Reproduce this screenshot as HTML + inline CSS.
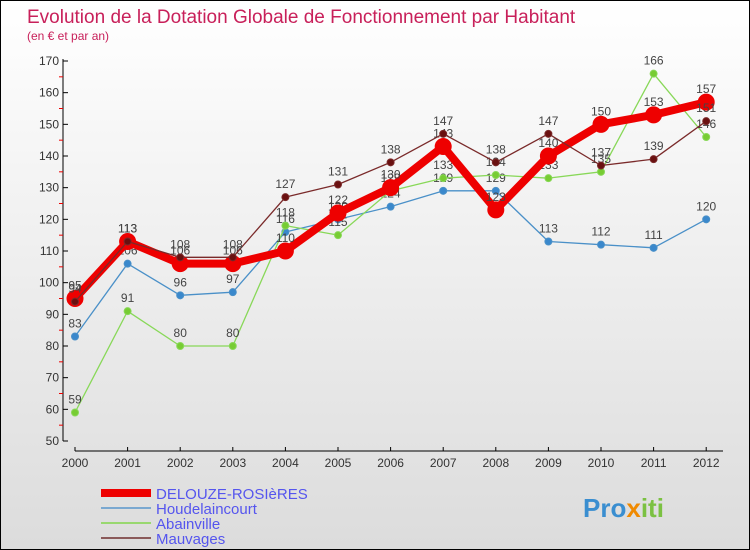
<!DOCTYPE html>
<html><head><meta charset="utf-8"><style>
body{margin:0;}
#wrap{width:748px;height:548px;border:1px solid #000;position:relative;background:linear-gradient(#fff,#dcdcdc);font-family:"Liberation Sans",sans-serif;overflow:hidden}
</style></head><body>
<div id="wrap">
<svg id="svg" width="748" height="548" xmlns="http://www.w3.org/2000/svg">
<text x="26" y="22" font-size="19" fill="#c8205a">Evolution de la Dotation Globale de Fonctionnement par Habitant</text>
<text x="26" y="39" font-size="12" fill="#c8205a">(en € et par an)</text>
<g id="axes"></g><g id="series"></g><g id="legend"></g>
<text x="582" y="516" font-size="26" font-weight="bold" fill="#3a8ed0">Pro<tspan fill="#f08a00">x</tspan><tspan fill="#7bc142">iti</tspan></text>
</svg></div>
<script>
const years=[2000,2001,2002,2003,2004,2005,2006,2007,2008,2009,2010,2011,2012];
const yTicks=[50,60,70,80,90,100,110,120,130,140,150,160,170];
const delouze=[95,113,106,106,110,122,130,143,123,140,150,153,157];
const houdelaincourt=[83,106,96,97,116,120,124,129,129,113,112,111,120];
const abainville=[59,91,80,80,118,115,129,133,134,133,135,166,146];
const mauvages=[94,113,108,108,127,131,138,147,138,147,137,139,151];
const seriesNames=["DELOUZE-ROSIèRES","Houdelaincourt","Abainville","Mauvages"];
const NS="http://www.w3.org/2000/svg";
const X=i=>74+i*52.6, Y=v=>440-(v-50)*3.1667;
function mk(t,a,p){const e=document.createElementNS(NS,t);for(const k in a)e.setAttribute(k,a[k]);p.appendChild(e);return e;}
const ax=document.getElementById('axes');
const yl=mk('line',{x1:62,y1:58,x2:62,y2:440,stroke:'#000'},ax);


const xl=mk('line',{x1:74,y1:450,x2:722,y2:450,stroke:'#000'},ax);


yTicks.forEach(v=>{
 mk('line',{x1:62,y1:Y(v),x2:67,y2:Y(v),stroke:'#000'},ax);
 if(v<170)mk('line',{x1:58,y1:Y(v+5),x2:62,y2:Y(v+5),stroke:'#e00'},ax);
 const t=mk('text',{x:58,y:Y(v)+4,'text-anchor':'end','font-size':12,fill:'#333'},ax);t.textContent=v;
 
 
});
years.forEach((y,i)=>{
 mk('line',{x1:X(i),y1:446,x2:X(i),y2:450,stroke:'#000'},ax);
 const t=mk('text',{x:X(i),y:466,'text-anchor':'middle','font-size':12,fill:'#333'},ax);t.textContent=y;
 
 
});
const sg=document.getElementById('series');
function draw(data,color,w,r,name,dot){
 const g=mk('g',{},sg);
 
 
 mk('polyline',{points:data.map((v,i)=>X(i)+','+Y(v)).join(' '),fill:'none',stroke:color,'stroke-width':w,'stroke-linejoin':'round'},g);
 data.forEach((v,i)=>{
  const c=mk('circle',{cx:X(i),cy:Y(v),r:r,fill:dot,stroke:color,'stroke-width':1},g);
  
  
  const t=mk('text',{x:X(i),y:Y(v)-9,'text-anchor':'middle','font-size':12,fill:'#444'},g);t.textContent=v;
 });
}
draw(houdelaincourt,'#4a90c8',1.3,3.5,'series-houdelaincourt','#3a88cc');
draw(abainville,'#88d858',1.3,3.5,'series-abainville','#77cc33');
draw(delouze,'#ee0000',8,8,'series-delouze','#ee0000');
draw(mauvages,'#7a2a2a',1.3,3.5,'series-mauvages','#6a1010');
const lg=document.getElementById('legend');
const items=[['#ee0000',8],['#7aa8d0',2],['#99d870',2],['#8a5a5a',2]];
items.forEach((it,k)=>{
 const y=492+k*15;
 const g=mk('g',{},lg);
 
 
 mk('line',{x1:100,y1:y,x2:150,y2:y,stroke:it[0],'stroke-width':it[1]},g);
 const t=mk('text',{x:155,y:y+6,'font-size':15,fill:'#5555ee'},g);t.textContent=seriesNames[k];
});
</script></body></html>
